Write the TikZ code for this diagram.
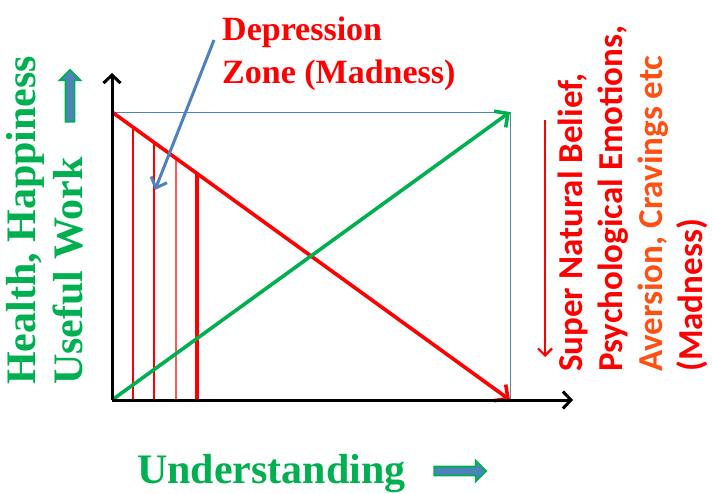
\documentclass[tikz,border=0pt]{standalone}
\usepackage{fontspec}
\setmainfont{Liberation Serif}
\newfontfamily\calibri{Carlito}
\usetikzlibrary{arrows.meta,shapes.arrows}
\definecolor{okgreen}{RGB}{0,176,80}
\definecolor{okblue}{RGB}{79,129,189}
\definecolor{okorange}{RGB}{255,80,20}
\definecolor{palered}{RGB}{255,90,90}

\begin{document}
\begin{tikzpicture}[x=1pt,y=-1pt,
	axis/.style={line width=3pt,-{Straight Barb[length=8pt,width=17pt]}},
	fatarrow/.style={single arrow,draw=okgreen,fill=okblue,line width=1.8pt,
		inner sep=3.5pt,single arrow head extend=6pt,minimum height=52pt}]
\useasboundingbox (0,0) rectangle (712,493);
%
	\coordinate (O) at (112,400);
	\coordinate (ytop) at (112,73);
	\coordinate (xend) at (573,400);
	\coordinate (TL) at (112,112);
	\coordinate (BR) at (510,400);
	\coordinate (TR) at (510,112);
%
	\draw[okblue,line width=1pt] (TL) rectangle (BR);
	\foreach \x/\c/\w in {133/red/1.8pt,154/red/1.8pt,176/palered/1.8pt,197/red/3.2pt}
		\draw[\c,line width=\w] (\x,400) -- (\x,{112+(\x-112)/398*288});
	\draw[red,line width=3.6pt,-{Straight Barb[length=10pt,width=20pt]}] (TL) -- (BR);
	\draw[okgreen,line width=3.6pt,-{Straight Barb[length=10pt,width=20pt]}] (O) -- (TR);
	\draw[axis] (O) -- (ytop);
	\draw[axis] (O) -- (xend);
%
	\node[red,font=\fontsize{34}{43}\selectfont\bfseries,align=left,anchor=base west,inner sep=0]
		(zonetext) at (222,83) {Depression\\Zone (Madness)};
	\coordinate (ptr) at (155,190);
	\draw[okblue,line width=3pt,-{Straight Barb[length=9pt,width=17pt]}] (214,40) -- (ptr);
%
	\node[okgreen,font=\fontsize{42}{47}\selectfont\bfseries,align=left,rotate=90,
		anchor=base west,inner sep=0] (health) at (82,385) {Health, Happiness\\Useful Work};
	\node[fatarrow,rotate=90] (up) at (70,98) {};
%
	\node[okgreen,font=\fontsize{42}{47}\selectfont\bfseries,anchor=base west,inner sep=0]
		(under) at (137,483) {Understanding};
	\node[fatarrow] (right) at (458,471) {};
%
	\coordinate (dtop) at (545,120);
	\coordinate (dbot) at (545,357);
	\draw[red,line width=2.2pt,-{Straight Barb[length=7pt,width=14pt]}] (dtop) -- (dbot);
	\node[red,font=\fontsize{35}{40}\selectfont\calibri\bfseries,align=left,rotate=90,
		anchor=base west,inner sep=0] (madness) at (702,372)
		{Super Natural Belief,\\Psychological Emotions,\\\textcolor{okorange}{Aversion, Cravings etc}\\(Madness)};
%
\end{tikzpicture}
\end{document}
